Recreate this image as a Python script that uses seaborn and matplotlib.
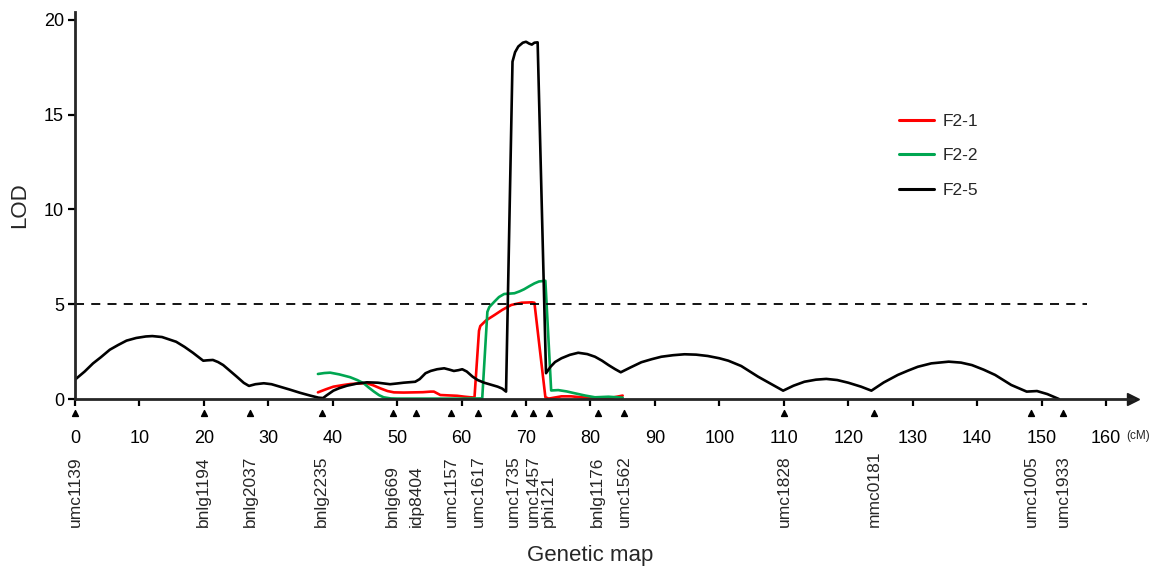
import numpy as np
import pandas as pd
import matplotlib
matplotlib.use('Agg')
import matplotlib.pyplot as plt
import seaborn as sns

# LOD profiles (position in cM, LOD score)
f25_cm = [0, 1.5, 2.8, 4, 5.4, 6.7, 8.0, 9.5, 11, 12, 13.5, 15.7, 17, 18.3, 19.9, 20.5, 21.4,
          22.2, 23.0, 24, 25.1, 26.2, 27.0, 28.0, 29.3, 30.5, 31.8, 33.3, 34.9, 36.5, 37.8, 38.5,
          39, 40.1, 41, 42.2, 43.7, 45.3, 47, 48.9, 50, 51.0, 52.8, 53.5, 54.4, 55.2, 56.2, 57.3,
          58.1, 58.8, 59.5, 60.1, 60.8, 61.7, 62.5, 63.5, 64.5, 65.6, 66.3, 66.9, 67.9, 68.3,
          68.8, 69.5, 70.0, 70.5, 70.9, 71.3, 71.8, 73.1, 73.8, 74.5, 75.5, 76.8, 78.1, 79.5,
          80.7, 81.8, 82.8, 83.8, 84.7, 86.3, 87.9, 89.5, 91.0, 92.8, 94.6, 96.4, 98.2, 100,
          101.4, 103.4, 106.0, 108, 109.9, 111.5, 113.2, 115, 116.6, 118.3, 120.0, 122, 123.6,
          125.5, 127.7, 129.3, 130.8, 132.9, 135.6, 137.5, 139.2, 141, 142.8, 145.3, 147.7,
          149.3, 150.9, 152.7]
f25_lod = [1.02, 1.45, 1.88, 2.2, 2.6, 2.85, 3.08, 3.22, 3.3, 3.32, 3.27, 3.02, 2.75, 2.44, 2.02,
           2.04, 2.06, 1.95, 1.79, 1.5, 1.18, 0.85, 0.69, 0.78, 0.83, 0.78, 0.65, 0.5, 0.33, 0.18,
           0.07, 0.05, 0.18, 0.44, 0.57, 0.7, 0.81, 0.88, 0.86, 0.78, 0.82, 0.86, 0.91, 1.05, 1.36,
           1.48, 1.57, 1.62, 1.55, 1.48, 1.52, 1.57, 1.45, 1.18, 1.0, 0.86, 0.76, 0.65, 0.55, 0.39,
           17.8, 18.3, 18.6, 18.8, 18.85, 18.75, 18.7, 18.8, 18.82, 1.36, 1.7, 1.95, 2.15, 2.33,
           2.44, 2.37, 2.23, 2.02, 1.79, 1.58, 1.41, 1.68, 1.94, 2.1, 2.23, 2.31, 2.36, 2.34, 2.27,
           2.15, 2.02, 1.74, 1.18, 0.8, 0.44, 0.7, 0.91, 1.02, 1.06, 1.0, 0.86, 0.65, 0.44, 0.87,
           1.27, 1.5, 1.7, 1.88, 1.97, 1.92, 1.79, 1.55, 1.27, 0.74, 0.39, 0.42, 0.26, 0.0]

f22_cm = [37.7, 38.7, 39.6, 41, 42.7, 43.8, 44.8, 45.6, 46.4, 47.2, 47.9, 49, 50, 55, 60, 63.2,
          64.0, 64.3, 65.1, 65.8, 66.6, 68.2, 69.0, 69.7, 70.5, 71.3, 72.0, 73.0, 73.9, 75.0,
          76.3, 77.6, 79.2, 80.7, 82.8, 85.0]
f22_lod = [1.32, 1.37, 1.39, 1.3, 1.15, 1.0, 0.83, 0.6, 0.39, 0.2, 0.09, 0.03, 0.02, 0.02, 0.02,
           0.03, 4.6, 4.85, 5.14, 5.38, 5.54, 5.58, 5.68, 5.79, 5.95, 6.1, 6.2, 6.24, 0.45, 0.47,
           0.4, 0.3, 0.18, 0.09, 0.12, 0.07]

f21_cm = [37.7, 39, 40.1, 41.5, 42.7, 44, 45.3, 46.3, 47.4, 48.5, 49.5, 51, 52.6, 54, 55.2, 55.7,
          56.2, 56.7, 58, 59.3, 60.5, 61.4, 62.0, 62.7, 62.9, 63.8, 65.1, 66.3, 67.7, 69.3, 70.9,
          71.3, 73.0, 73.5, 75.5, 77, 78.6, 81.7, 83.5, 85.0]
f21_lod = [0.35, 0.52, 0.65, 0.73, 0.79, 0.82, 0.83, 0.72, 0.56, 0.42, 0.35, 0.34, 0.35, 0.36, 0.39,
           0.39, 0.3, 0.21, 0.19, 0.17, 0.12, 0.09, 0.08, 3.6, 3.85, 4.15, 4.43, 4.7, 4.96, 5.08,
           5.1, 5.08, 0.1, 0.02, 0.14, 0.14, 0.09, 0.04, 0.08, 0.18]

# SSR markers on the genetic map
markers = ['umc1139', 'bnlg1194', 'bnlg2037', 'bnlg2235', 'bnlg669', 'idp8404', 'umc1157',
           'umc1617', 'umc1735', 'umc1457', 'phi121', 'bnlg1176', 'umc1562', 'umc1828',
           'mmc0181', 'umc1005', 'umc1933']
marker_cm = [0, 20, 27.2, 38.3, 49.3, 53.0, 58.4, 62.6, 68.1, 71.1, 73.5, 81.1, 85.2, 110.1,
             124.0, 148.4, 153.4]

threshold = 5

df = pd.concat([
    pd.DataFrame({'cM': f21_cm, 'LOD': f21_lod, 'pop': 'F2-1'}),
    pd.DataFrame({'cM': f22_cm, 'LOD': f22_lod, 'pop': 'F2-2'}),
    pd.DataFrame({'cM': f25_cm, 'LOD': f25_lod, 'pop': 'F2-5'}),
], ignore_index=True)

sns.set_theme(style='white')
plt.rcParams['font.family'] = ['Liberation Sans', 'DejaVu Sans']

fig = plt.figure(figsize=(11.51, 5.69), dpi=100)
ax = fig.add_axes([75 / 1151, 170 / 569, 1058 / 1151, 387 / 569])

palette = {'F2-1': '#ff0000', 'F2-2': '#00a651', 'F2-5': '#000000'}
sns.lineplot(data=df, x='cM', y='LOD', hue='pop', palette=palette, estimator=None,
             sort=False, linewidth=1.9, ax=ax)

ax.hlines(threshold, 0, 157, colors='black', linestyles=(0, (5, 4)), linewidth=1.3)

ax.set_xlim(0, 164.2)
ax.set_ylim(0, 20.42)
ax.set_xticks(np.arange(0, 161, 10))
ax.set_yticks([0, 5, 10, 15, 20])
sns.despine(ax=ax)
ax.spines['left'].set_linewidth(2.0)
ax.spines['bottom'].set_linewidth(2.0)
ax.tick_params(axis='both', direction='out', length=5, width=1.6, colors='black',
               labelsize=13, bottom=True, left=True)
ax.tick_params(axis='x', pad=17)
ax.tick_params(axis='y', pad=3)

# arrow at the end of the x axis
ax.plot(1, 0, '>k', markersize=9, transform=ax.transAxes, clip_on=False)
ax.text(163.2, -0.095, '(cM)', transform=ax.get_xaxis_transform(), fontsize=8.5,
        ha='left', va='center')

# marker triangles and names below the axis
xt = ax.get_xaxis_transform()
ax.scatter(marker_cm, [-0.037] * len(marker_cm), marker='^', s=18, color='black',
           transform=xt, clip_on=False, zorder=5)
for name, pos in zip(markers, marker_cm):
    ax.text(pos, -0.331, name, transform=xt, rotation=90, ha='center', va='bottom',
            fontsize=12.5)

ax.set_xlabel('')
ax.set_ylabel('LOD', fontsize=16, labelpad=10)
fig.text((75 + 80 * 6.444) / 1151, 1 - 556 / 569, 'Genetic map', fontsize=16,
         ha='center', va='center')

leg = ax.legend(loc='upper left', bbox_to_anchor=(899 / 1151, 1 - 114 / 569),
                bbox_transform=fig.transFigure, frameon=False, fontsize=12.5,
                handlelength=2.0, handletextpad=0.5, labelspacing=1.1,
                borderpad=0, borderaxespad=0, title=None)
for line in leg.get_lines():
    line.set_linewidth(2.2)

fig.savefig('out.png', dpi=100)
